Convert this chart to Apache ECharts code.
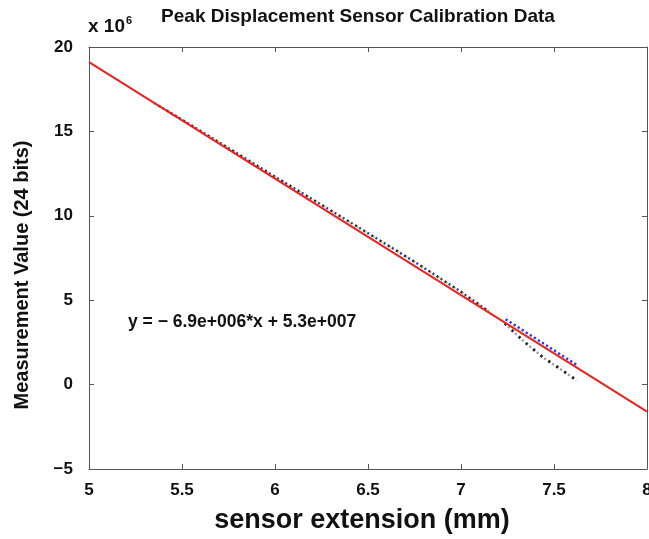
<!DOCTYPE html>
<html>
<head>
<meta charset="utf-8">
<script src="https://cdn.jsdelivr.net/npm/echarts@6/dist/echarts.min.js"></script>
<style>
html,body{margin:0;padding:0;background:#fff;}
#c{width:649px;height:539px;}
</style>
</head>
<body>
<div id="c"></div>
<script>
// ---- data (values in units of 1e6) ----
var xTicks = [5, 5.5, 6, 6.5, 7, 7.5, 8];
var yTicks = [-5, 0, 5, 10, 15, 20];

// measured calibration data, common upper section
var measX = [5.35, 5.5, 5.75, 6.0, 6.25, 6.5, 6.75, 7.0, 7.15];
var measY = [16.68, 15.70, 14.01, 12.32, 10.65, 8.97, 7.28, 5.50, 4.33];

// split section: upper (blue) branch
var blueX = [7.24, 7.44, 7.62];
var blueY = [3.87, 2.46, 1.18];

// split section: lower (black) branch
var blackX = [7.235, 7.34, 7.44, 7.52, 7.62];
var blackY = [3.63, 2.54, 1.62, 1.03, 0.27];

// linear fit  y = -6.9e6*x + 5.3e7
var fitX = [5, 8];
var fitY = [19.1, -1.6];

var titleText = 'Peak Displacement Sensor Calibration Data';
var xName = 'sensor extension (mm)';
var yName = 'Measurement Value (24 bits)';
var equationText = 'y = \u2212 6.9e+006*x + 5.3e+007';

function pairs(xs, ys){ return xs.map(function(x,i){ return [x, ys[i]]; }); }

var chart = echarts.init(document.getElementById('c'), null, {renderer:'canvas'});
var FONT = 'Liberation Sans';
var axisCol = '#555';
var txt = '#111';

function dotted(data, color, offset, dash, w){
  return {
    type:'line', data:data, showSymbol:false, silent:true, z:2,
    lineStyle:{color:color, width:w || 2.4, type:dash, dashOffset:offset, cap:'butt'}
  };
}

var option = {
  backgroundColor:'#fff',
  animation:false,
  grid:{left:89, right:2, top:47, bottom:70, show:false, outerBoundsMode:'none', containLabel:false},
  xAxis:[{
    type:'value', min:5, max:8, interval:0.5,
    axisLine:{show:true, onZero:false, lineStyle:{color:axisCol, width:1}},
    axisTick:{inside:true, length:5, lineStyle:{color:axisCol}},
    splitLine:{show:false},
    axisLabel:{fontFamily:FONT, fontWeight:'bold', fontSize:17, color:txt, margin:13,
      formatter:function(v){ return xTicks.indexOf(v) >= 0 ? String(v) : ''; }}
  },{
    type:'value', min:5, max:8, interval:0.5, position:'top',
    axisLine:{show:true, onZero:false, lineStyle:{color:axisCol, width:1}},
    axisTick:{inside:true, length:5, lineStyle:{color:axisCol}},
    axisLabel:{show:false}, splitLine:{show:false}
  }],
  yAxis:[{
    type:'value', min:-5, max:20, interval:5,
    axisLine:{show:true, onZero:false, lineStyle:{color:axisCol, width:1}},
    axisTick:{inside:true, length:5, lineStyle:{color:axisCol}},
    splitLine:{show:false},
    axisLabel:{fontFamily:FONT, fontWeight:'bold', fontSize:17, color:txt, margin:16,
      formatter:function(v){ return yTicks.indexOf(v) >= 0 ? (v < 0 ? '\u2212' + (-v) : String(v)) : ''; }}
  },{
    type:'value', min:-5, max:20, interval:5, position:'right',
    axisLine:{show:true, onZero:false, lineStyle:{color:axisCol, width:1}},
    axisTick:{inside:true, length:5, lineStyle:{color:axisCol}},
    axisLabel:{show:false}, splitLine:{show:false}
  }],
  graphic:[{
    type:'text', x:358, y:17,
    style:{text:titleText, fontFamily:FONT, fontWeight:'bold', fontSize:19, fill:txt,
      align:'center', verticalAlign:'middle'}
  },{
    type:'text', x:88, y:36,
    style:{
      text:'{b|x 10}{s|6}', verticalAlign:'bottom',
      rich:{
        b:{fontFamily:FONT, fontWeight:'bold', fontSize:19, fill:txt, verticalAlign:'bottom'},
        s:{fontFamily:FONT, fontWeight:'bold', fontSize:11, fill:txt, verticalAlign:'top', padding:[0,0,10,1]}
      }
    }
  },{
    type:'text', x:22, y:275, rotation:Math.PI/2,
    style:{text:yName, fontFamily:FONT, fontWeight:'bold', fontSize:20, fill:txt,
      align:'center', verticalAlign:'middle'}
  },{
    type:'text', x:362, y:521,
    style:{text:xName, fontFamily:FONT, fontWeight:'bold', fontSize:27, fill:txt,
      align:'center', verticalAlign:'middle'}
  },{
    type:'text', x:128, y:322,
    style:{text:equationText, fontFamily:FONT, fontWeight:'bold', fontSize:17.5, fill:txt,
      align:'left', verticalAlign:'middle'}
  }],
  series:[
    dotted(pairs(measX, measY), '#c8c89a', 3.2, [2, 7.6]),
    dotted(pairs(measX, measY), '#2a3aa8', 0, [2, 7.6]),
    dotted(pairs(measX, measY), '#222', 4.8, [2, 7.6]),
    dotted(pairs(blueX, blueY), '#2233ee', 0, [2.2, 2.6]),
    dotted(pairs(blackX, blackY), '#999', 4.8, [2, 7.6]),
    dotted(pairs(blackX, blackY), '#222', 0, [2.4, 7.2], 2.8),
    {
      type:'line', data:pairs(fitX, fitY), showSymbol:false, silent:true, z:5,
      lineStyle:{color:'#e8231f', width:2}
    }
  ]
};
chart.setOption(option);
</script>
</body>
</html>
